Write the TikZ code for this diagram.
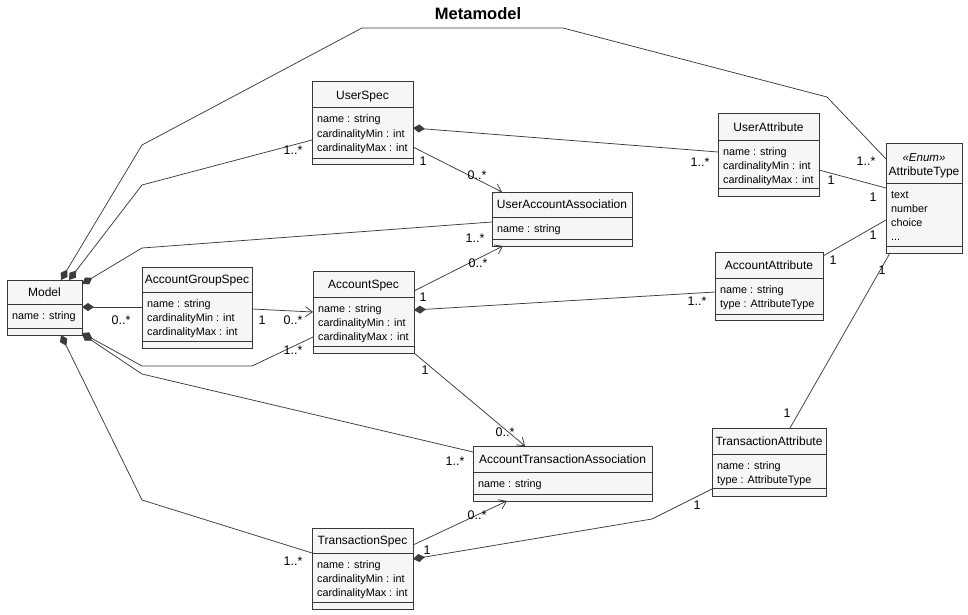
\documentclass[tikz,border=0pt]{standalone}
\usepackage{fontspec}
\setmainfont{Liberation Sans}
\usetikzlibrary{arrows.meta,calc}
\definecolor{boxfill}{HTML}{F6F6F6}
\definecolor{boxedge}{HTML}{383838}
\definecolor{wire}{HTML}{3C3C3C}

\tikzset{
  cls/.style={draw=boxedge, fill=boxfill, line width=1pt, inner sep=0pt, outer sep=0pt, anchor=north west},
  sep/.style={draw=boxedge, line width=1pt},
  clsname/.style={font=\fontsize{12}{14}\selectfont, anchor=base, inner sep=0pt},
  member/.style={font=\fontsize{10.8}{13}\selectfont, anchor=base west, inner sep=0pt},
  wireline/.style={draw=wire, line width=0.75pt, line join=round},
  composed/.style={wireline, {Diamond[length=12pt,width=8pt,fill=wire]}-},
  navig/.style={wireline, -{Straight Barb[length=7pt,width=10pt]}},
  mult/.style={font=\fontsize{12.5}{14}\selectfont, inner sep=0pt},
}

% class box: name, x1, y1, x2, y2, header bottom, members bottom, title, members
\newcommand\umlclass[9]{%
  \node[cls, minimum width={#4pt-#2pt}, minimum height={#5pt-#3pt}] (#1) at (#2,#3) {};
  \draw[sep] (#2,#6) -- (#4,#6) (#2,#7) -- (#4,#7);
  \node[clsname] (#1-title) at ({(#2+#4)/2},{(#3+#6)/2+4.3}) {#8};
  \foreach \m [count=\i] in {#9} {
    \node[member] (#1-m\i) at ({#2+5},{#6+15+(\i-1)*14.3}) {\m};
  }%
}

\begin{document}
\begin{tikzpicture}[x=1pt,y=-1pt]
\useasboundingbox[fill=white] (0,0) rectangle (968,615);

\node[font=\bfseries\fontsize{16.5}{18}\selectfont, inner sep=0pt] (title) at (478,14) {Metamodel};

% classes
\umlclass{model}{7}{280}{82}{335}{304}{328}{Model}{name : string}
\umlclass{userspec}{312}{82}{413}{164}{108}{158}{UserSpec}{name : string, cardinalityMin : int, cardinalityMax : int}
\umlclass{uaa}{492}{192}{632}{246}{217}{239}{UserAccountAssociation}{name : string}
\umlclass{userattr}{718}{114}{819}{196}{140}{188}{UserAttribute}{name : string, cardinalityMin : int, cardinalityMax : int}
\umlclass{groupspec}{142}{267}{252}{348}{292}{341}{AccountGroupSpec}{name : string, cardinalityMin : int, cardinalityMax : int}
\umlclass{accspec}{313}{271}{414}{353}{297}{346}{AccountSpec}{name : string, cardinalityMin : int, cardinalityMax : int}
\umlclass{accattr}{715}{252}{823}{320}{278}{314}{AccountAttribute}{name : string, type : AttributeType}
\umlclass{ata}{473}{446}{652}{501}{472}{494}{AccountTransactionAssociation}{name : string}
\umlclass{txattr}{712}{428}{826}{496}{454}{488}{TransactionAttribute}{name : string, type : AttributeType}
\umlclass{txspec}{312}{528}{413}{609}{553}{602}{TransactionSpec}{name : string, cardinalityMin : int, cardinalityMax : int}

% enumeration
\node[cls, minimum width=76pt, minimum height=110pt] (attrtype) at (886,143) {};
\draw[sep] (886,183) -- (962,183) (886,246) -- (962,246);
\node[clsname, font=\itshape\fontsize{11.5}{14}\selectfont] (attrtype-st) at (924,161.3) {«Enum»};
\node[clsname] (attrtype-title) at (924,175.3) {AttributeType};
\node[member] (attrtype-m1) at (891,198) {text};
\node[member] (attrtype-m2) at (891,212.3) {number};
\node[member] (attrtype-m3) at (891,226.6) {choice};
\node[member] (attrtype-m4) at (891,240.9) {...};

% compositions owned by Model
\draw[composed] ([shift={(54,0)}]model.north west) -- (142,145) -- (362,28) -- (563,28) -- (827,97) -- ([shift={(0,16)}]attrtype.north west);
\draw[composed] ([shift={(62,0)}]model.north west) -- (142,185) -- ([shift={(0,58)}]userspec.north west);
\draw[composed] ([shift={(0,4)}]model.north east) -- (142,248) -- ([shift={(0,30)}]uaa.north west);
\draw[composed] ([shift={(0,27)}]model.north east) -- ([shift={(0,40)}]groupspec.north west);
\draw[composed] ([shift={(0,53)}]model.north east) -- (142,366) -- (252,366) -- ([shift={(0,66)}]accspec.north west);
\draw[composed] ([shift={(0,54)}]model.north east) -- (142,374) -- ([shift={(0,6)}]ata.north west);
\draw[composed] ([shift={(54,0)}]model.south west) -- (142,500) -- ([shift={(0,25)}]txspec.north west);

% other associations
\draw[navig] ([shift={(0,42)}]groupspec.north east) -- ([shift={(0,41)}]accspec.north west);
\draw[navig] ([shift={(0,65)}]userspec.north east) -- ([shift={(10,0)}]uaa.north west);
\draw[composed] ([shift={(0,46)}]userspec.north east) -- ([shift={(0,38)}]userattr.north west);
\draw[wireline] ([shift={(0,56)}]userattr.north east) -- ([shift={(0,45)}]attrtype.north west);
\draw[wireline] ([shift={(0,4)}]accattr.north east) -- ([shift={(0,77)}]attrtype.north west);
\draw[navig] ([shift={(0,20)}]accspec.north east) -- ([shift={(11,0)}]uaa.south west);
\draw[composed] ([shift={(0,39)}]accspec.north east) -- ([shift={(0,40)}]accattr.north west);
\draw[navig] (accspec.south east) -- ([shift={(52,0)}]ata.north west);
\draw[navig] ([shift={(0,17)}]txspec.north east) -- ([shift={(34,0)}]ata.south west);
\draw[composed] ([shift={(0,31)}]txspec.north east) -- (652,519) -- ([shift={(0,61)}]txattr.north west);
\draw[wireline] ([shift={(78,0)}]txattr.north west) -- ([shift={(4,0)}]attrtype.south west);

% multiplicities
\node[mult] (m1) at (866,161) {1..*};
\node[mult] (m2) at (293,150) {1..*};
\node[mult] (m3) at (475,238) {1..*};
\node[mult] (m4) at (121,320) {0..*};
\node[mult] (m5) at (262,320) {1};
\node[mult] (m6) at (293,320) {0..*};
\node[mult] (m7) at (293,350) {1..*};
\node[mult] (m8) at (455,461) {1..*};
\node[mult] (m9) at (293,561) {1..*};
\node[mult] (m10) at (423,161) {1};
\node[mult] (m11) at (477,175) {0..*};
\node[mult] (m12) at (700,162) {1..*};
\node[mult] (m13) at (831,180) {1};
\node[mult] (m14) at (873,197) {1};
\node[mult] (m15) at (873,235) {1};
\node[mult] (m16) at (833,260) {1};
\node[mult] (m17) at (423,297) {1};
\node[mult] (m18) at (478,263) {0..*};
\node[mult] (m19) at (697,301) {1..*};
\node[mult] (m20) at (425,370) {1};
\node[mult] (m21) at (505,432) {0..*};
\node[mult] (m22) at (477,515) {0..*};
\node[mult] (m23) at (427,550) {1};
\node[mult] (m24) at (697,505) {1};
\node[mult] (m25) at (787,413) {1};
\node[mult] (m26) at (882,270) {1};
\end{tikzpicture}
\end{document}
